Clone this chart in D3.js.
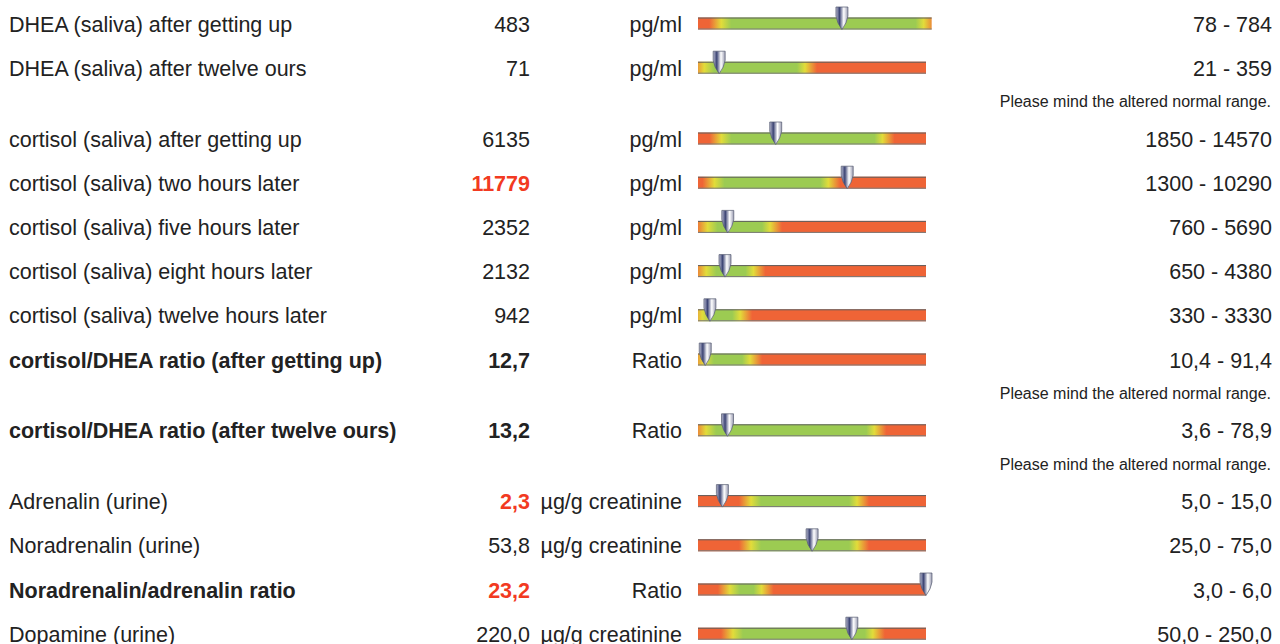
<!DOCTYPE html>
<html>
<head>
<meta charset="utf-8">
<script src="https://cdn.jsdelivr.net/npm/d3@7"></script>
<style>
  body { margin: 0; background: #fff; }
  svg { display: block; }
</style>
</head>
<body>
<div id="chart"></div>
<script>
// Werte der Laborbefunde
const labels = [
  "DHEA (saliva) after getting up",
  "DHEA (saliva) after twelve ours",
  "cortisol (saliva) after getting up",
  "cortisol (saliva) two hours later",
  "cortisol (saliva) five hours later",
  "cortisol (saliva) eight hours later",
  "cortisol (saliva) twelve hours later",
  "cortisol/DHEA ratio (after getting up)",
  "cortisol/DHEA ratio (after twelve ours)",
  "Adrenalin (urine)",
  "Noradrenalin (urine)",
  "Noradrenalin/adrenalin ratio",
  "Dopamine (urine)"
];
const values = [483, 71, 6135, 11779, 2352, 2132, 942, 12.7, 13.2, 2.3, 53.8, 23.2, 220.0];
const units = ["pg/ml", "pg/ml", "pg/ml", "pg/ml", "pg/ml", "pg/ml", "pg/ml",
  "Ratio", "Ratio", "µg/g creatinine", "µg/g creatinine", "Ratio", "µg/g creatinine"];
const refLow = [78, 21, 1850, 1300, 760, 650, 330, 10.4, 3.6, 5.0, 25.0, 3.0, 50.0];
const refHigh = [784, 359, 14570, 10290, 5690, 4380, 3330, 91.4, 78.9, 15.0, 75.0, 6.0, 250.0];
const decimals = [0, 0, 0, 0, 0, 0, 0, 1, 1, 1, 1, 1, 1];
// Obergrenze der Skala je Balken
const scaleMax = [765, 765, 18000, 18000, 18000, 18000, 18000, 400, 102, 21.5, 107.5, 21.5, 326];
const boldRows = [false, false, false, false, false, false, false, true, true, false, false, true, false];
const noteAfter = [false, true, false, false, false, false, false, true, true, false, false, false, false];
const noteText = "Please mind the altered normal range.";

const W = 1280, H = 644;
const font = "'Liberation Sans', Arial, sans-serif";
const fs = 21.5;
const RED = "#ef6436", YELLOW = "#e2dc3a", GREEN = "#9ccb52";
const barLeft = 698, barRight = 926;

const fmt = (v, d) => d3.format("." + d + "f")(v).replace(".", ",");

const svg = d3.select("#chart").append("svg")
  .attr("width", W).attr("height", H)
  .style("font-family", font);
const defs = svg.append("defs");

// Metall-Verlauf der Nadel
const pin = defs.append("linearGradient").attr("id", "pinGrad")
  .attr("x1", 0).attr("x2", 1).attr("y1", 0).attr("y2", 0);
[[0, "#b8bad0"], [0.3, "#3c4474"], [0.65, "#ffffff"], [1, "#9a9cb2"]].forEach(s =>
  pin.append("stop").attr("offset", s[0]).attr("stop-color", s[1]));

// Zeilenpositionen
let notes = 0;
const rowY = labels.map((d, i) => {
  const y = 24 + i * 44.2 + notes * 26.6;
  if (noteAfter[i]) notes++;
  return y;
});

labels.forEach((label, i) => {
  const c = rowY[i];
  const g = svg.append("g");
  const bold = boldRows[i];
  const out = values[i] < refLow[i] || values[i] > refHigh[i];

  g.append("text").attr("x", 9).attr("y", c).attr("dy", "0.35em")
    .attr("font-size", fs).attr("font-weight", bold ? "bold" : "normal")
    .attr("fill", "#222").text(label);

  g.append("text").attr("x", 530).attr("y", c).attr("dy", "0.35em")
    .attr("text-anchor", "end").attr("font-size", fs)
    .attr("font-weight", bold || out ? "bold" : "normal")
    .attr("fill", out ? "#f23a21" : "#222")
    .text(fmt(values[i], decimals[i]));

  g.append("text").attr("x", 682).attr("y", c).attr("dy", "0.35em")
    .attr("text-anchor", "end").attr("font-size", fs).attr("fill", "#222")
    .text(units[i]);

  g.append("text").attr("x", 1272).attr("y", c).attr("dy", "0.35em")
    .attr("text-anchor", "end").attr("font-size", fs).attr("fill", "#222")
    .text(fmt(refLow[i], decimals[i]) + " - " + fmt(refHigh[i], decimals[i]));

  if (noteAfter[i]) {
    svg.append("text").attr("x", 1271).attr("y", c + 33.5).attr("dy", "0.35em")
      .attr("text-anchor", "end").attr("font-size", 16).attr("fill", "#222")
      .text(noteText);
  }

  // Balken
  const x = d3.scaleLinear().domain([0, scaleMax[i]]).range([barLeft, barRight]);
  const xL = x(refLow[i]);
  const xHraw = x(refHigh[i]);
  const end = Math.max(barRight, xHraw);
  const xH = Math.min(xHraw, end - 8);
  let gA = xL + 10, gB = xH - 8;
  if (gA > gB) { gA = gB = (xL + xH) / 2; }

  const g0 = barLeft - 60, g1 = end + 60;
  const off = v => Math.max(0, Math.min(1, (v - g0) / (g1 - g0)));
  const grad = defs.append("linearGradient").attr("id", "bar" + i)
    .attr("gradientUnits", "userSpaceOnUse")
    .attr("x1", g0).attr("x2", g1).attr("y1", 0).attr("y2", 0);
  [[xL - 12, RED], [xL, YELLOW], [gA, GREEN], [gB, GREEN], [xH, YELLOW], [xH + 12, RED]]
    .forEach(s => grad.append("stop").attr("offset", off(s[0])).attr("stop-color", s[1]));

  const top = c - 6.5, h = 12;
  g.append("rect").attr("x", barLeft).attr("y", top)
    .attr("width", end - barLeft).attr("height", h)
    .attr("fill", "url(#bar" + i + ")");
  g.append("line").attr("x1", barLeft).attr("x2", end)
    .attr("y1", top + 0.5).attr("y2", top + 0.5)
    .attr("stroke", "#5e5e5e").attr("stroke-width", 1);
  g.append("line").attr("x1", barLeft).attr("x2", end)
    .attr("y1", top + h - 0.5).attr("y2", top + h - 0.5)
    .attr("stroke", "#7a7a7a").attr("stroke-width", 1);

  // Nadel
  const xv = x.copy().clamp(true)(values[i]);
  const p = d3.path();
  p.moveTo(xv - 6, c - 17);
  p.lineTo(xv + 6, c - 17);
  p.lineTo(xv + 6, c - 8);
  p.quadraticCurveTo(xv + 5, c - 1, xv, c + 5.5);
  p.quadraticCurveTo(xv - 5, c - 1, xv - 6, c - 8);
  p.closePath();
  g.append("path").attr("d", p.toString())
    .attr("fill", "url(#pinGrad)")
    .attr("stroke", "#555a70").attr("stroke-width", 0.7);
});
</script>
</body>
</html>
